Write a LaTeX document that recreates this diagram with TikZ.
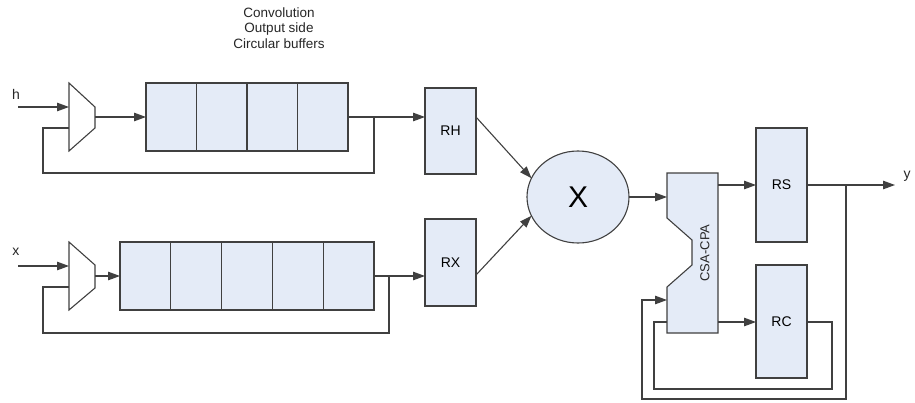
\documentclass[tikz,border=0pt]{standalone}
\usepackage{fontspec}
\setmainfont{Liberation Sans}
\usetikzlibrary{shapes.geometric,arrows.meta}
\definecolor{lc}{HTML}{404040}
\definecolor{fc}{HTML}{E4EBF7}
\begin{document}
\begin{tikzpicture}[x=1pt,y=-1pt,
  wire/.style={draw=lc,line width=1.1pt},
  arr/.style={wire,-{Triangle[length=12pt,width=8.5pt]}},
  reg/.style={draw=lc,fill=fc,line width=1.1pt,inner sep=0pt,outer sep=0pt,font=\fontsize{14}{16}\selectfont},
  cell/.style={reg,anchor=north west,minimum height=68pt},
  lbl/.style={inner sep=0pt,font=\fontsize{14}{16}\selectfont,text=black!85}
]
\useasboundingbox (0,0) rectangle (915,402);

% title
\node[lbl,align=center,font=\fontsize{13.5}{15.5}\selectfont] (title) at (279,28) {Convolution\\Output side\\Circular buffers};

% top mux
\draw[wire,fill=white] (69,83) -- (95,107) -- (95,128) -- (69,151) -- cycle;
\coordinate (mhin) at (69,107);
\coordinate (mhout) at (95,117);
\coordinate (mhfb) at (69,128);
\coordinate (hin) at (18,107);
\node[lbl] (hl) at (16,94) {h};

% top buffer
\foreach \i in {1,...,4} {
  \node[cell,minimum width=50.5pt] (t\i) at ({146+(\i-1)*50.5},83) {};
}
% bottom mux
\draw[wire,fill=white] (69,242) -- (95,265) -- (95,288) -- (69,310) -- cycle;
\coordinate (mxin) at (69,266);
\coordinate (mxout) at (95,276);
\coordinate (mxfb) at (69,287);
\coordinate (xin) at (18,266);
\node[lbl] (xl) at (16,252) {x};

% bottom buffer
\foreach \i in {1,...,5} {
  \node[cell,minimum width=50.8pt] (b\i) at ({120+(\i-1)*50.8},242) {};
}

% registers
\node[reg,minimum width=51pt,minimum height=86pt] (RH) at (450.5,131) {RH};
\node[reg,minimum width=51pt,minimum height=87pt] (RX) at (450.5,262.5) {RX};
\node[reg,ellipse,minimum width=102pt,minimum height=92pt,font=\fontsize{30}{32}\selectfont] (X) at (578,197) {X};
\node[reg,minimum width=51pt,minimum height=114pt] (RS) at (781.5,185) {RS};
\node[reg,minimum width=51pt,minimum height=113pt] (RC) at (781.5,321.5) {RC};

% CSA-CPA
\draw[wire,fill=fc] (667,173) -- (718,173) -- (718,333) -- (667,333) -- (667,287) -- (692,265) -- (692,240) -- (667,218) -- cycle;
\node[lbl,rotate=90,font=\fontsize{13}{15}\selectfont] (csa) at (705,253) {CSA-CPA};
\coordinate (csain) at (667,197);
\coordinate (csafb) at (667,300);
\coordinate (csarc) at (667,322);
\coordinate (csas) at (718,185);
\coordinate (csac) at (718,322);
\coordinate (yout) at (895,185);
\node[lbl] (yl) at (907,176) {y};

% top path
\draw[arr] (hin) -- (mhin);
\draw[arr] (mhout) -- (t1.west);
\draw[arr] (t4.east) -- (t4.east -| RH.west);
\draw[wire] (t4.east -| 374,0) |- (43,173) |- (mhfb);

% bottom path
\draw[arr] (xin) -- (mxin);
\draw[arr] (mxout) -- (b1.west);
\draw[arr] (b5.east) -- (b5.east -| RX.west);
\draw[wire] (b5.east -| 389,0) |- (43,333) |- (mxfb);

% multiplier
\draw[arr] (t4.east -| RH.east) -- (X.158);
\draw[arr] (RX.east |- 0,275) -- (X.202);
\draw[arr] (X.east) -- (csain);

% accumulator
\draw[arr] (csas) -- (RS.west);
\draw[arr] (csac) -- (csac -| RC.west);
\draw[arr] (RS.east) -- (yout);
\draw[arr] (RS.east -| 846,0) -- (846,399) -| (642,300) -- (csafb);
\draw[wire] (RC.east |- csac) -- (832,322) -- (832,389) -| (654,322) -- (csarc);
\end{tikzpicture}
\end{document}
